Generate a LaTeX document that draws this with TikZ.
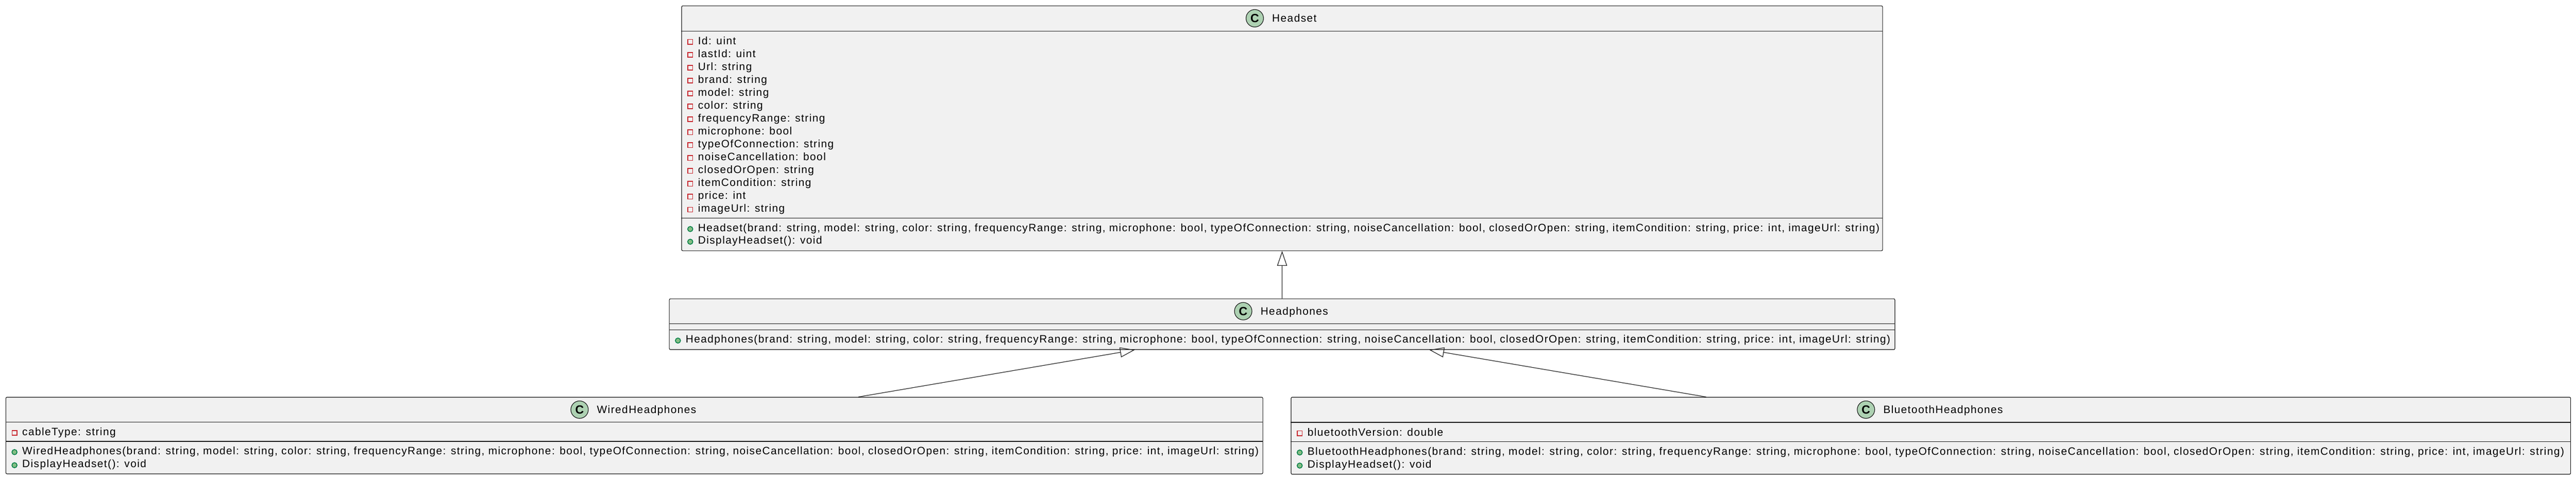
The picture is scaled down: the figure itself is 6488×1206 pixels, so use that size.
\documentclass[tikz,border=0pt]{standalone}
\usepackage{fontspec}
\setmainfont{Liberation Sans}[LetterSpace=7]
\usepackage{xcolor}
\usetikzlibrary{arrows.meta}
\usetikzlibrary{positioning}
\usetikzlibrary{calc}

\definecolor{boxfill}{HTML}{F1F1F1}
\definecolor{boxline}{HTML}{181818}
\definecolor{badgefill}{HTML}{ADD1B2}
\definecolor{privred}{HTML}{C82930}
\definecolor{pubfill}{HTML}{84BE84}
\definecolor{publine}{HTML}{038048}

\newcommand{\hpargs}{brand: string, model: string, color: string, frequencyRange: string, microphone: bool, typeOfConnection: string, noiseCancellation: bool, closedOrOpen: string, itemCondition: string, price: int, imageUrl: string}

\tikzset{
  classbox/.style={draw=boxline, fill=boxfill, line width=0.15pt, rounded corners=0.3pt, anchor=north west, inner sep=0pt},
  sepline/.style={draw=boxline, line width=0.15pt},
  ctitle/.style={anchor=base, inner sep=0pt, text height=2pt, text depth=0.2pt, font=\fontsize{2.7pt}{3pt}\selectfont},
  badge/.style={circle, draw=boxline, fill=badgefill, line width=0.15pt, minimum size=4.4pt, inner sep=0pt, font=\fontsize{3pt}{3pt}\selectfont\bfseries},
  member/.style={anchor=base west, inner sep=0pt, font=\fontsize{2.7pt}{3pt}\selectfont},
  priv/.style={draw=privred, line width=0.2pt},
  pub/.style={draw=publine, fill=pubfill, line width=0.2pt},
  inherit/.style={draw=boxline, line width=0.15pt, -{Triangle[open, length=3.7pt, width=2.5pt]}}
}

\begin{document}
\begin{tikzpicture}[x=0.1pt,y=0.1pt,yscale=-1,xscale=1]
\useasboundingbox (0,0) rectangle (6488,1206);

%Class boxes
\node [classbox, minimum width=302.5pt, minimum height=61.7pt] (Headset) at (1716,14) {};
\node [classbox, minimum width=308.7pt, minimum height=12.8pt] (Headphones) at (1685,752) {};
\node [classbox, minimum width=316.6pt, minimum height=19.3pt] (WiredHeadphones) at (14,1000) {};
\node [classbox, minimum width=322.3pt, minimum height=19.4pt] (BluetoothHeadphones) at (3251,1000) {};

%Compartment lines
\draw [sepline] (1716,78) -- (4741,78) ;
\draw [sepline] (1716,550) -- (4741,550) ;
\draw [sepline] (1685,816) -- (4772,816) ;
\draw [sepline] (1685,831) -- (4772,831) ;
\draw [sepline] (14,1063) -- (3180,1063) ;
\draw [sepline] (14,1112) -- (3180,1112) ;
\draw [sepline] (3251,1064) -- (6474,1064) ;
\draw [sepline] (3251,1113) -- (6474,1113) ;

% Titles
\node [ctitle] (hsTitle) at (3260,55) {Headset};
\node [badge, left=1.9pt of hsTitle] (hsBadge) {C};
\node [ctitle] (hpTitle) at (3260,793) {Headphones};
\node [badge, left=1.9pt of hpTitle] (hpBadge) {C};
\node [ctitle] (whTitle) at (1628.5,1041) {WiredHeadphones};
\node [badge, left=1.9pt of whTitle] (whBadge) {C};
\node [ctitle] (bhTitle) at (4894,1041) {BluetoothHeadphones};
\node [badge, left=1.9pt of bhTitle] (bhBadge) {C};

% Private markers
\draw [priv] (1732.5,99.5) rectangle ++(12,12) (1732.5,132) rectangle ++(12,12) (1732.5,164.5) rectangle ++(12,12) (1732.5,197) rectangle ++(12,12) (1732.5,229.5) rectangle ++(12,12) (1732.5,262) rectangle ++(12,12) (1732.5,294.5) rectangle ++(12,12) (1732.5,327) rectangle ++(12,12) (1732.5,359.5) rectangle ++(12,12) (1732.5,392) rectangle ++(12,12) (1732.5,424.5) rectangle ++(12,12) (1732.5,457) rectangle ++(12,12) (1732.5,489.5) rectangle ++(12,12) (1732.5,522) rectangle ++(12,12) ;
\draw [priv] (30.5,1084.5) rectangle ++(12,12) ;
\draw [priv] (3267.5,1085.5) rectangle ++(12,12) ;
% Public markers
\filldraw [pub] (1738.5,577) circle (0.65pt) (1738.5,609) circle (0.65pt) ;
\filldraw [pub] (1707.5,858) circle (0.65pt) ;
\filldraw [pub] (36.5,1139) circle (0.65pt) (36.5,1172) circle (0.65pt) ;
\filldraw [pub] (3273.5,1140) circle (0.65pt) (3273.5,1173) circle (0.65pt) ;

% Text Node
\node [member] (hsId) at (1756,112) {Id: uint};
\node [member] (hsLastId) at (1756,144.5) {lastId: uint};
\node [member] (hsUrl) at (1756,177) {Url: string};
\node [member] (hsBrand) at (1756,209.5) {brand: string};
\node [member] (hsModel) at (1756,242) {model: string};
\node [member] (hsColor) at (1756,274.5) {color: string};
\node [member] (hsFreq) at (1756,307) {frequencyRange: string};
\node [member] (hsMic) at (1756,339.5) {microphone: bool};
\node [member] (hsConn) at (1756,372) {typeOfConnection: string};
\node [member] (hsNoise) at (1756,404.5) {noiseCancellation: bool};
\node [member] (hsClosed) at (1756,437) {closedOrOpen: string};
\node [member] (hsCond) at (1756,469.5) {itemCondition: string};
\node [member] (hsPrice) at (1756,502) {price: int};
\node [member] (hsImage) at (1756,534.5) {imageUrl: string};
\node [member] (hsCtor) at (1756,583) {Headset(\hpargs)};
\node [member] (hsShow) at (1756,615) {DisplayHeadset(): void};
% Text Node
\node [member] (hpCtor) at (1725,864) {Headphones(\hpargs)};
% Text Node
\node [member] (whCable) at (54,1097) {cableType: string};
\node [member] (whCtor) at (54,1145) {WiredHeadphones(\hpargs)};
\node [member] (whShow) at (54,1178) {DisplayHeadset(): void};
% Text Node
\node [member] (bhVersion) at (3291,1098) {bluetoothVersion: double};
\node [member] (bhCtor) at (3291,1146) {BluetoothHeadphones(\hpargs)};
\node [member] (bhShow) at (3291,1179) {DisplayHeadset(): void};

%Inheritance
\coordinate (wiredTop) at ($(WiredHeadphones.north west)+(2148,0)$);
\coordinate (wiredTip) at ($(Headphones.south west)+(1173,0)$);
\coordinate (btTop) at ($(BluetoothHeadphones.north west)+(1046,0)$);
\coordinate (btTip) at ($(Headphones.south west)+(1915,0)$);
\draw [inherit] (Headphones.north) -- (Headset.south) ;
\draw [inherit] (wiredTop) -- (wiredTip) ;
\draw [inherit] (btTop) -- (btTip) ;

\end{tikzpicture}
\end{document}
